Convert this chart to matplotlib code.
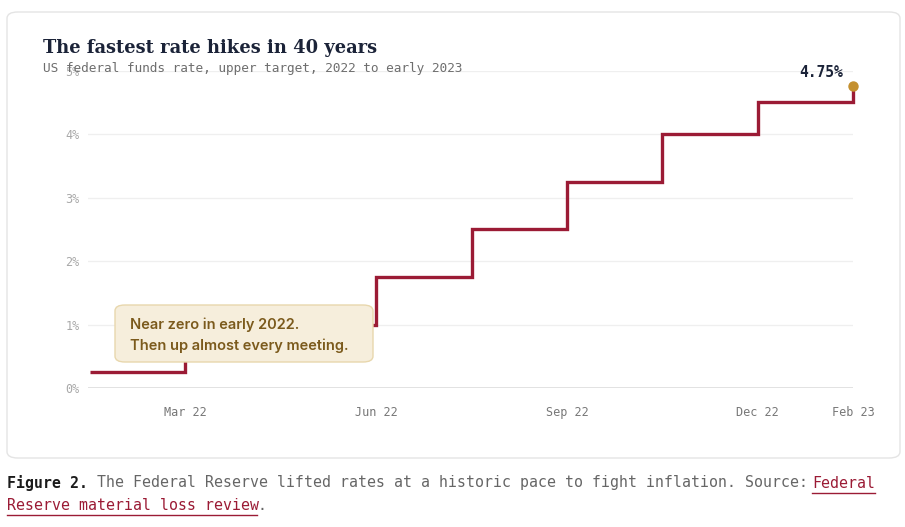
import matplotlib
matplotlib.use("Agg")
import matplotlib.pyplot as plt
from matplotlib.patches import FancyBboxPatch
from matplotlib.lines import Line2D

# ---- data ----
meetings = ["Jan 22", "Mar 22", "May 22", "Jun 22", "Jul 22", "Sep 22", "Nov 22", "Dec 22", "Feb 23"]
rates = [0.25, 0.50, 1.00, 1.75, 2.50, 3.25, 4.00, 4.50, 4.75]
tick_labels = ["Mar 22", "Jun 22", "Sep 22", "Dec 22", "Feb 23"]
y_ticks = [0, 1, 2, 3, 4, 5]

W, H = 905, 527
fig = plt.figure(figsize=(W / 100, H / 100), dpi=100)
fig.patch.set_facecolor("white")

def fx(px):
    return px / W

def fy(py):
    return 1 - py / H

# card
card = FancyBboxPatch((fx(7), fy(458)), fx(900) - fx(7), fy(12) - fy(458),
                      boxstyle="round,pad=0,rounding_size=0.012",
                      transform=fig.transFigure, facecolor="white",
                      edgecolor="#e4e4e4", linewidth=1.0, zorder=-5)
fig.patches.append(card)

ax = fig.add_axes([fx(88), fy(388), fx(853) - fx(88), fy(70.6) - fy(388)])
ax.set_facecolor("none")
x = list(range(len(meetings)))
ax.set_xlim(-0.021, len(meetings) - 1)
ax.set_ylim(0, 5)
for s in ax.spines.values():
    s.set_visible(False)

for t in y_ticks:
    ax.axhline(t, color="#dadada" if t == 0 else "#efefef", lw=1.1 if t == 0 else 0.9, zorder=0)

ax.set_yticks(y_ticks)
ax.set_yticklabels([f"{t}%" for t in y_ticks], family="DejaVu Sans Mono", fontsize=8.5, color="#a8a8a8")
ax.tick_params(axis="y", length=0, pad=6)

tick_pos = [meetings.index(l) for l in tick_labels]
ax.set_xticks(tick_pos)
ax.set_xticklabels(tick_labels, family="DejaVu Sans Mono", fontsize=8.5, color="#777777")
ax.tick_params(axis="x", length=0, pad=13)

ax.step(x, rates, where="post", color="#9b1b35", lw=2.4, solid_joinstyle="miter",
        solid_capstyle="butt", zorder=3, clip_on=False)
ax.plot([x[-1]], [rates[-1]], "o", ms=6.5, color="#c4902f", zorder=4, clip_on=False)
ax.annotate(f"{rates[-1]:.2f}%", (x[-1], rates[-1]), xytext=(-7, 10), textcoords="offset points",
            ha="right", va="center", family="DejaVu Sans Mono", fontweight="bold",
            fontsize=10.5, color="#1b2338")

# annotation box
box = FancyBboxPatch((fx(115), fy(362)), fx(373) - fx(115), fy(305) - fy(362),
                     boxstyle="round,pad=0,rounding_size=0.011",
                     transform=fig.transFigure, facecolor="#f6eedc",
                     edgecolor="#e8d7ad", linewidth=1.0, zorder=5)
fig.patches.append(box)
fig.text(fx(130), fy(325), "Near zero in early 2022.", family="Inter", fontweight="semibold",
         fontsize=10.5, color="#7b5a1c", va="center", ha="left", zorder=6)
fig.text(fx(130), fy(346), "Then up almost every meeting.", family="Inter", fontweight="semibold",
         fontsize=10.5, color="#7b5a1c", va="center", ha="left", zorder=6)

# title / subtitle
fig.text(fx(43), fy(53), "The fastest rate hikes in 40 years", family="DejaVu Serif",
         fontweight="bold", fontsize=12.9, color="#1b2338", va="baseline", ha="left")
fig.text(fx(43), fy(69), "US federal funds rate, upper target, 2022 to early 2023",
         family="DejaVu Sans Mono", fontsize=9.2, color="#6e6e6e", va="center", ha="left", zorder=7)

# caption (monospace segments)
cfs = 10.7
cw = 0.602 * cfs * 100 / 72  # char width in px
line1 = [("Figure 2.", "#1b1b1b", "bold", False),
         (" The Federal Reserve lifted rates at a historic pace to fight inflation. Source: ", "#666666", "normal", False),
         ("Federal", "#9b1b35", "normal", True)]
line2 = [("Reserve material loss review", "#9b1b35", "normal", True),
         (".", "#666666", "normal", False)]
for segs, yc in [(line1, 483), (line2, 505)]:
    px = 7
    for txt, col, wt, ul in segs:
        fig.text(fx(px), fy(yc), txt, family="DejaVu Sans Mono", fontweight=wt, fontsize=cfs,
                 color=col, va="center", ha="left")
        if ul:
            fig.lines.append(Line2D([fx(px), fx(px + cw * len(txt))], [fy(yc + 9.5)] * 2,
                                    transform=fig.transFigure, color="#9b1b35", lw=1.0))
        px += cw * len(txt)

fig.savefig("out.png", dpi=100)
